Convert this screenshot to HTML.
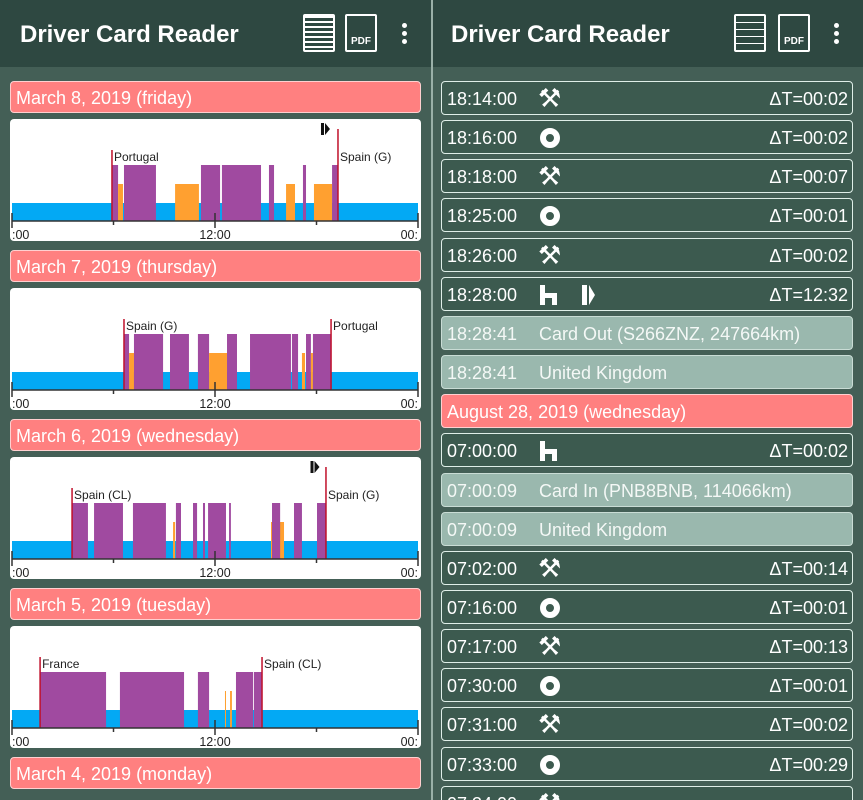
<!DOCTYPE html>
<html><head><meta charset="utf-8"><style>
*{box-sizing:border-box;margin:0;padding:0}
html,body{width:863px;height:800px;overflow:hidden}
body{background:#445f56;font-family:"Liberation Sans","DejaVu Sans",sans-serif;position:relative}
.hdr{position:absolute;top:0;height:67px;background:#2e4841;color:#fff;font-size:24px;font-weight:bold}
.hdr .t{position:absolute;left:20px;top:21px}
.ic{position:absolute;top:14px;width:32px;height:38px;border:2px solid #fff;border-radius:2px}
.dots{position:absolute;top:23px;width:5px}
.dots i{display:block;width:5px;height:5px;background:#fff;border-radius:50%;margin-bottom:3px}
.date{position:absolute;left:10px;width:411px;height:32px;background:#ff8080;border:1px solid #ffd0d0;border-radius:4px;color:#fff;font-size:18px;padding:6px 0 0 5px}
.chart{position:absolute;left:10px;width:411px;height:122px;background:#fff;border-radius:4px}
.row{position:absolute;left:441px;width:412px;height:34px;border:1.5px solid #dfeee8;border-radius:4px;background:#3c5a4f;color:#fff;font-size:18px}
.row.l{background:#9ab8ae;color:#f4f8f6;border-color:#c9dcd5}
.row.r{background:#ff8080;border-color:#ffd0d0}
.row .tm{position:absolute;left:5px;top:7px}
.row .dt{position:absolute;right:4px;top:7px}
.row .tx{position:absolute;left:97px;top:7px}
.row .i1{position:absolute;left:96px;top:1px;font-size:26px;font-weight:bold}
.ring{position:absolute;left:98px;top:7px;width:20px;height:20px;border:6px solid #fff;border-radius:50%}
</style></head><body>
<div class="hdr" style="left:0;width:431px">
<span class="t">Driver Card Reader</span>
<div class="ic" style="left:303px;background:repeating-linear-gradient(#fff 0 2px,#2e4841 2px 5px)"></div>
<div class="ic" style="left:345px;font-size:10px;text-align:center;padding-top:20px">PDF</div>
<div class="dots" style="left:402px"><i></i><i></i><i></i></div>
</div>
<div style="position:absolute;left:431px;top:0;width:2px;height:800px;background:#9ab0a8"></div>
<div class="hdr" style="left:433px;width:430px">
<span class="t" style="left:18px">Driver Card Reader</span>
<div class="ic" style="left:301px;background:repeating-linear-gradient(#2e4841 0 6px,#fff 6px 7px)"></div>
<div class="ic" style="left:345px;font-size:10px;text-align:center;padding-top:20px">PDF</div>
<div class="dots" style="left:401px"><i></i><i></i><i></i></div>
</div>
<div id="left"></div>
<div id="right"></div>
<script>
const dayLabels=["March 8, 2019 (friday)","March 7, 2019 (thursday)","March 6, 2019 (wednesday)","March 5, 2019 (tuesday)","March 4, 2019 (monday)"];
const day0=[["D",5.91,6.27],["W",6.27,6.56],["D",6.62,8.51],["W",9.64,11.05],["D",11.17,12.30],["D",12.41,14.72],["D",15.19,15.49],["W",16.20,16.73],["D",17.20,17.38],["W",17.85,18.92],["D",18.92,19.27]];
const day1=[["D",6.62,6.92],["W",6.92,7.21],["D",7.21,8.93],["D",9.34,10.46],["D",10.99,11.65],["W",11.65,12.71],["D",12.71,13.30],["D",14.07,16.49],["D",16.55,16.91],["W",17.14,17.32],["D",17.38,17.67],["W",17.67,17.79],["D",17.79,18.86]];
const day2=[["D",3.55,4.49],["D",4.85,6.56],["D",7.15,9.10],["W",9.52,9.64],["D",9.69,9.99],["D",10.70,10.94],["D",11.29,11.41],["D",11.59,12.65],["D",12.83,12.94],["W",15.31,16.08],["D",15.37,15.85],["D",16.67,17.14],["D",18.03,18.56]];
const day3=[["D",1.66,5.56],["D",6.38,10.17],["D",10.99,11.65],["W",12.59,12.65],["W",12.89,13.00],["D",13.24,14.25],["D",14.30,14.78]];
const countries=[[["Portugal",5.91],["Spain (G)",19.27]],[["Spain (G)",6.62],["Portugal",18.86]],[["Spain (CL)",3.55],["Spain (G)",18.56]],[["France",1.66],["Spain (CL)",14.78]]];
const ferries=[18.62,null,18.0,null];
const tickLabels=[":00","12:00","00:"];
const days=[day0,day1,day2,day3];
const X0=2,X1=408;
function xs(h){return X0+h/24*(X1-X0);}
const L=document.getElementById('left');
let html='';
dayLabels.forEach((lab,i)=>{
  const y=81+i*169;
  html+=`<div class="date" style="top:${y}px">${lab}</div>`;
  if(i<4){
    const cy=y+38;
    let s=`<svg width="411" height="122" font-family="Liberation Sans, sans-serif">`;
    s+=`<rect x="${X0}" y="84" width="${X1-X0}" height="18" fill="#03a9f4"/>`;
    days[i].forEach(sg=>{
      const t=sg[0]==="D"?46:65;
      const c=sg[0]==="D"?"#a04aa0":"#ffa030";
      s+=`<rect x="${xs(sg[1])}" y="${t}" width="${Math.max(1,xs(sg[2])-xs(sg[1]))}" height="${102-t}" fill="${c}"/>`;
    });
    countries[i].forEach((c,k)=>{
      const x=xs(c[1]);
      const tall=(k===1&&ferries[i]!==null);
      s+=`<line x1="${x}" x2="${x}" y1="${tall?10:31}" y2="102" stroke="#c0102a" stroke-width="1.5"/>`;
      s+=`<text x="${x+2}" y="42" font-size="12" fill="#222">${c[0]}</text>`;
    });
    if(ferries[i]!==null){const fx=xs(ferries[i]);s+=`<rect x="${fx-6}" y="4" width="3" height="12" fill="#111"/><path d="M${fx-2} 4l5 6-5 6z" fill="#111"/>`;}
    s+=`<line x1="${X0}" x2="${X1}" y1="102" y2="102" stroke="#333" stroke-width="1.5"/>`;
    [0,6,12,18,24].forEach(h=>{const big=h%12===0;s+=`<line x1="${xs(h)}" x2="${xs(h)}" y1="${big?94:102}" y2="${big?109:106}" stroke="#333" stroke-width="1.5"/>`;});
    s+=`<text x="${X0}" y="120" font-size="12.5" fill="#222">${tickLabels[0]}</text>`;
    s+=`<text x="${xs(12)}" y="120" font-size="12.5" fill="#222" text-anchor="middle">${tickLabels[1]}</text>`;
    s+=`<text x="${X1}" y="120" font-size="12.5" fill="#222" text-anchor="end">${tickLabels[2]}</text>`;
    s+=`</svg>`;
    html+=`<div class="chart" style="top:${cy}px">${s}</div>`;
  }
});
L.innerHTML=html;
const rows=[
["d","18:14:00","H","ΔT=00:02"],["d","18:16:00","O","ΔT=00:02"],["d","18:18:00","H","ΔT=00:07"],["d","18:25:00","O","ΔT=00:01"],["d","18:26:00","H","ΔT=00:02"],["d","18:28:00","B","ΔT=12:32"],
["l","18:28:41","Card Out (S266ZNZ, 247664km)",""],["l","18:28:41","United Kingdom",""],["r","August 28, 2019 (wednesday)","",""],
["d","07:00:00","B0","ΔT=00:02"],["l","07:00:09","Card In (PNB8BNB, 114066km)",""],["l","07:00:09","United Kingdom",""],
["d","07:02:00","H","ΔT=00:14"],["d","07:16:00","O","ΔT=00:01"],["d","07:17:00","H","ΔT=00:13"],["d","07:30:00","O","ΔT=00:01"],["d","07:31:00","H","ΔT=00:02"],["d","07:33:00","O","ΔT=00:29"],["d","07:34:00","H",""]];
let r='';
rows.forEach((w,i)=>{
  const y=81+i*39.15;
  let inner=`<span class="tm">${w[1]}</span>`;
  if(w[0]==="d"){
    if(w[2]==="H")inner+=`<span class="i1">⚒</span>`;
    else if(w[2]==="O")inner+=`<span class="ring"></span>`;
    else{inner+=`<svg style="position:absolute;left:98px;top:7px" width="60" height="20"><path d="M0 0h5v8h12v12h-5v-7H5v7H0z" fill="#fff"/>${w[2]==="B"?'<rect x="42" y="0" width="5" height="20" fill="#fff"/><path d="M49 0l6 10-6 10z" fill="#fff"/>':''}</svg>`;}
    inner+=`<span class="dt">${w[3]}</span>`;
  } else if(w[0]==="l"){inner+=`<span class="tx">${w[2]}</span>`;}
  r+=`<div class="row ${w[0]==="d"?"":w[0]}" style="top:${y}px">${inner}</div>`;
});
document.getElementById('right').innerHTML=r;
</script>
</body></html>
